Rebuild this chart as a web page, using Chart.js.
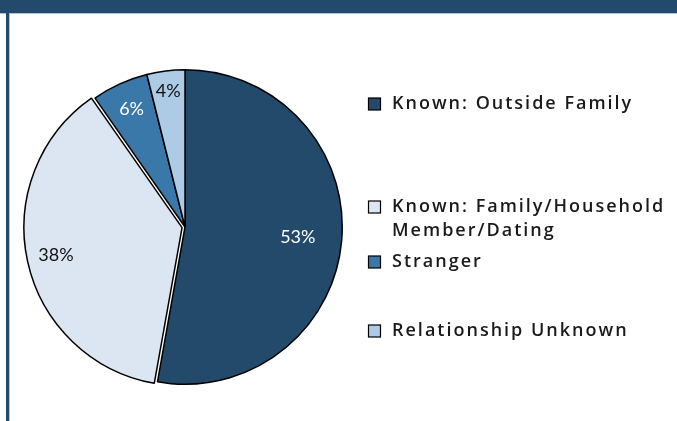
<!DOCTYPE html>
<html>
<head>
<meta charset="utf-8">
<script src="https://cdn.jsdelivr.net/npm/chart.js@4.4.0/dist/chart.umd.min.js"></script>
<style>
  body { margin: 0; background: #fff; }
  #wrap { position: relative; width: 677px; height: 421px; overflow: hidden; }
  #band { position: absolute; left: 0; top: 0; width: 677px; height: 13px; background: #234a6b; border-bottom: 1px solid #a9c4dc; }
  #side { position: absolute; left: 6px; top: 13px; width: 3px; height: 408px; background: #234a6b; border-right: 1px solid #a9c4dc; }
  canvas { position: absolute; left: 0; top: 0; }
</style>
</head>
<body>
<div id="wrap">
  <div id="band"></div>
  <div id="side"></div>
  <canvas id="pieChart" width="677" height="421"></canvas>
</div>
<script>
// data (percent of cases)
var categories = ['Known: Outside Family', 'Known: Family/Household Member/Dating', 'Stranger', 'Relationship Unknown'];
var legendLines = [['Known: Outside Family'], ['Known: Family/Household', 'Member/Dating'], ['Stranger'], ['Relationship Unknown']];
var shares = [52.8, 37.5, 5.8, 3.9];

var sliceColors = ['#234a6b', '#dce6f2', '#3a78aa', '#adcbe4'];
var labelColors = ['#ffffff', '#111111', '#ffffff', '#111111'];
var labelDist = [0.72, 0.84, 0.82, 0.87]; // fraction of radius

// percentage labels inside slices
var sliceLabels = {
    id: 'sliceLabels',
    afterDatasetsDraw: function (chart) {
        var ctx = chart.ctx;
        var meta = chart.getDatasetMeta(0);
        ctx.save();
        ctx.font = '18px Lato';
        ctx.textAlign = 'center';
        ctx.textBaseline = 'middle';
        meta.data.forEach(function (arc, i) {
            var p = arc.getProps(['x', 'y', 'startAngle', 'endAngle', 'outerRadius'], true);
            var mid = (p.startAngle + p.endAngle) / 2;
            var r = p.outerRadius * labelDist[i];
            ctx.fillStyle = labelColors[i];
            ctx.fillText(Math.round(shares[i]) + '%', p.x + Math.cos(mid) * r, p.y + Math.sin(mid) * r);
        });
        ctx.restore();
    }
};

// legend on the right, Excel-like uneven spacing
var legendRows = [104, 207, 262, 331];
var sideLegend = {
    id: 'sideLegend',
    afterDraw: function (chart) {
        var ctx = chart.ctx;
        ctx.save();
        ctx.font = '600 18px "Open Sans"';
        ctx.letterSpacing = '2px';
        ctx.textBaseline = 'middle';
        legendLines.forEach(function (lines, i) {
            var y = legendRows[i];
            ctx.fillStyle = sliceColors[i];
            ctx.fillRect(368.5, y - 6, 12, 12);
            ctx.strokeStyle = '#000';
            ctx.lineWidth = 1.2;
            ctx.strokeRect(368.5, y - 6, 12, 12);
            ctx.fillStyle = '#1a1a1a';
            lines.forEach(function (t, k) {
                ctx.fillText(t, 392, y + k * 24);
            });
        });
        ctx.restore();
    }
};

new Chart(document.getElementById('pieChart'), {
    type: 'pie',
    data: {
        labels: categories,
        datasets: [{
            data: shares,
            backgroundColor: sliceColors,
            borderColor: '#000000',
            borderWidth: 1.5,
            offset: [0, 12, 0, 0]
        }]
    },
    options: {
        responsive: false,
        animation: false,
        layout: { padding: { left: 21, right: 328, top: 63, bottom: 30 } },
        plugins: {
            legend: { display: false },
            tooltip: { enabled: false },
            title: { display: false }
        }
    },
    plugins: [sliceLabels, sideLegend]
});
</script>
</body>
</html>
